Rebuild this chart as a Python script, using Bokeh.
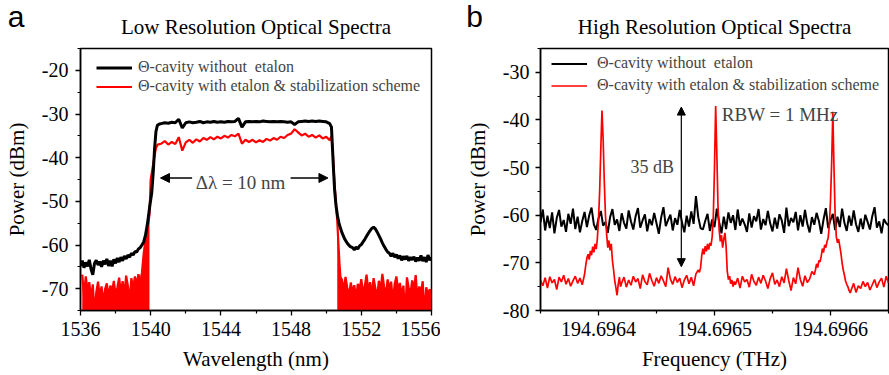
import numpy as np
from bokeh.plotting import figure
from bokeh.layouts import row
from bokeh.models import (Range1d, FixedTicker, PrintfTickFormatter, Legend, LegendItem,
                          Label, Arrow, NormalHead, Title)
from bokeh.embed import file_html
from bokeh.resources import INLINE

# ---------------- Panel a: low resolution spectra (wavelength nm, power dBm) ----------------
black_a_left_y = [-64.8, -63.6, -65.2, -64.0, -64.9, -63.4, -65.5, -66.8, -64.2, -63.5,
                  -64.6, -63.8, -65.0, -63.6, -64.4, -63.2, -64.8, -63.6, -64.9, -63.3,
                  -64.2, -63.0, -63.9, -62.8, -63.6, -62.5, -63.2, -62.3, -62.8, -61.9,
                  -62.3, -61.5, -61.6, -60.9, -60.6]
black_a_left_x = np.linspace(1536.0, 1539.4, len(black_a_left_y))
black_a_rise_x = [1539.5, 1539.6, 1539.7, 1539.8, 1539.87, 1539.95, 1540.06, 1540.15, 1540.22, 1540.3, 1540.38, 1540.5]
black_a_rise_y = [-60.0, -59.3, -57.8, -55.5, -53.5, -51.0, -48.0, -43.0, -38.0, -34.0, -32.6, -32.3]
black_a_plat_y = [-32.2, -32.0, -32.1, -31.9, -32.0, -31.2, -33.2, -32.0, -31.8, -32.0,
                  -31.9, -31.7, -32.0, -31.8, -31.9, -31.7, -31.9, -31.8, -31.9, -31.7,
                  -31.8, -31.7, -31.0, -33.0, -31.8, -31.7, -31.8, -31.7, -31.8, -31.6,
                  -31.7, -31.8, -31.7, -31.8, -31.7, -31.8, -31.9, -31.8, -32.4, -31.8,
                  -31.7, -31.6, -31.7, -31.6, -31.7, -31.6, -31.7, -31.8, -32.2]
black_a_plat_x = np.linspace(1540.6, 1550.2, len(black_a_plat_y))
black_a_fall_x = [1550.3, 1550.36, 1550.42, 1550.48, 1550.56, 1550.65, 1550.72, 1550.8, 1550.91, 1551.05, 1551.2, 1551.35]
black_a_fall_y = [-33.0, -38.0, -43.0, -47.5, -51.0, -53.5, -54.8, -56.0, -57.3, -58.6, -59.6, -60.3]
black_a_right_y = [-60.6, -61.1, -60.5, -60.9, -60.2, -59.9, -59.3, -58.7, -58.0, -57.3,
                   -56.7, -56.2, -55.9, -56.3, -57.0, -57.8, -58.6, -59.5, -60.3, -61.0,
                   -61.6, -61.9, -62.6, -61.9, -62.8, -62.2, -63.1, -62.4, -63.5, -62.6,
                   -63.3, -62.5, -63.6, -62.8, -63.4, -62.7, -63.8, -62.9, -63.6, -62.4,
                   -63.7, -62.8, -63.9, -62.3, -63.5, -62.9]
black_a_right_x = np.linspace(1551.5, 1556.0, len(black_a_right_y))

red_a_left_y = [-66.8, -71.5, -67.2, -70.3, -68.5, -72.4, -69.0, -76.0, -70.8, -68.4,
                -71.9, -69.5, -73.2, -70.1, -68.8, -72.0, -69.3, -70.6, -68.2, -71.4,
                -69.8, -67.5, -70.9, -68.3, -71.6, -67.0, -69.4, -72.8, -67.6, -70.0,
                -67.2, -69.1, -66.7, -68.5, -66.4]
red_a_left_x = np.linspace(1536.1, 1539.5, len(red_a_left_y))
red_a_rise_x = [1539.6, 1539.7, 1539.8, 1539.88, 1539.93, 1540.0, 1540.1, 1540.2, 1540.3, 1540.4, 1540.5]
red_a_rise_y = [-62.0, -59.0, -56.5, -54.5, -53.0, -45.0, -42.5, -40.0, -37.8, -37.0, -36.9]
red_a_plat_y = [-36.8, -36.2, -37.0, -36.4, -36.9, -35.3, -38.4, -36.5, -35.9, -36.6,
                -35.8, -36.3, -35.5, -35.9, -35.3, -35.8, -35.2, -35.6, -35.0, -35.4,
                -34.8, -35.1, -34.5, -36.8, -35.9, -36.4, -35.9, -36.5, -36.0, -36.4,
                -35.7, -36.1, -35.5, -35.9, -35.2, -35.5, -34.8, -34.5, -33.5, -34.2,
                -34.9, -34.5, -35.2, -34.8, -35.4, -34.9, -35.6, -35.2, -36.0]
red_a_plat_x = np.linspace(1540.6, 1550.2, len(red_a_plat_y))
red_a_fall_x = [1550.3, 1550.38, 1550.46, 1550.55, 1550.63, 1550.7, 1550.76, 1550.81]
red_a_fall_y = [-35.0, -39.0, -45.0, -50.0, -54.5, -60.0, -64.5, -67.3]
red_a_right_y = [-68.0, -70.5, -67.3, -69.8, -71.8, -68.6, -70.9, -69.2, -72.3, -68.9,
                 -70.2, -67.8, -71.0, -69.4, -66.8, -70.7, -68.5, -71.5, -67.6, -69.9,
                 -72.0, -68.2, -70.4, -66.6, -69.6, -71.3, -67.9, -70.0, -68.4, -73.0,
                 -69.0, -67.2, -70.6, -68.7, -71.7, -69.3, -76.0, -67.4, -69.8, -71.2,
                 -68.1, -70.3, -66.9, -72.5, -69.5, -70.8, -68.3, -76.0, -69.7, -71.4,
                 -70.1, -72.2]
red_a_right_x = np.linspace(1550.9, 1556.0, len(red_a_right_y))

a_xticks = [1536, 1540, 1544, 1548, 1552, 1556]
a_xminor = [1538, 1542, 1546, 1550, 1554]
a_yticks = [-70, -60, -50, -40, -30, -20]
a_yminor = [-75, -65, -55, -45, -35, -25, -15]

# annotation anchors panel a
dl_text = "\u0394\u03bb = 10 nm"
dl_x, dl_y, dl_arrow_y = 1545.12, -45.6, -44.65
dl_left_arrow = (1542.36, 1540.56)
dl_right_arrow = (1547.97, 1550.1)

# ---------------- Panel b: high resolution spectra ----------------
f0_thz = 194.6964  # offsets below in MHz from this frequency
black_b_off = np.arange(-50, 251, 2)
black_b_pow = [-61.5, -58.8, -63.2, -60.1, -62.7, -59.4, -63.8, -60.6, -58.9, -62.4,
               -61.0, -63.5, -59.7, -61.8, -58.6, -62.9, -60.3, -63.6, -61.2, -59.3,
               -62.5, -60.0, -58.4, -61.9, -63.1, -60.7, -59.1, -62.2, -61.4, -63.7,
               -60.4, -58.7, -62.0, -60.9, -63.3, -59.6, -61.6, -62.8, -59.0, -61.3,
               -63.0, -60.2, -58.5, -62.6, -61.1, -59.8, -63.4, -60.8, -62.1, -59.5,
               -61.7, -63.9, -60.5, -58.3, -62.3, -61.0, -59.9, -63.2, -60.6, -62.0,
               -58.9, -61.5, -63.6, -60.1, -62.4, -59.2, -61.8, -56.0, -60.4, -62.7,
               -63.0, -61.2, -59.7, -63.3, -60.9, -62.5, -58.6, -61.4, -63.8, -60.3,
               -62.9, -59.4, -61.6, -60.0, -63.1, -58.8, -62.2, -60.7, -61.9, -63.5,
               -59.6, -62.6, -60.2, -61.3, -58.7, -63.0, -60.8, -62.1, -59.1, -61.7,
               -63.4, -60.5, -62.8, -59.8, -61.1, -63.7, -58.4, -62.3, -60.6, -61.5,
               -59.3, -63.2, -60.0, -62.4, -58.9, -61.8, -63.6, -60.4, -62.0, -59.5,
               -61.2, -63.9, -60.9, -58.5, -62.7, -61.0, -59.7, -63.1, -60.3, -62.5,
               -58.6, -61.6, -63.3, -60.1, -62.2, -59.0, -61.9, -63.5, -60.7, -62.9,
               -59.9, -61.4, -63.0, -60.2, -58.3, -62.6, -61.3, -63.8, -60.8, -61.7,
               -62.1]

red_b_seg1_off = np.arange(-50, -11, 2)
red_b_seg1_pow = [-73.6, -74.8, -73.1, -75.3, -72.9, -74.2, -73.5, -75.6, -73.0, -74.0,
                  -72.6, -74.5, -73.3, -74.9, -73.8, -72.8, -74.3, -73.2, -74.6, -72.4]
red_b_pk1_off = np.arange(-11, 20)
red_b_pk1_pow = [-70.5, -69.0, -68.2, -69.3, -67.5, -68.4, -66.6, -67.8, -66.0, -67.1,
                 -65.0, -61.0, -55.0, -46.0, -38.0, -44.0, -53.0, -60.0, -64.0, -66.8,
                 -65.3, -67.4, -66.0, -69.5, -71.5, -73.8, -75.2, -76.8, -74.5, -73.0,
                 -75.0]
red_b_seg2_off = np.arange(20, 87, 2)
red_b_seg2_pow = [-74.2, -73.0, -75.1, -73.6, -74.7, -72.8, -74.0, -73.3, -75.4, -72.5,
                  -73.9, -74.6, -72.2, -73.7, -74.9, -73.1, -74.3, -72.7, -73.8, -75.0,
                  -71.0, -73.4, -74.5, -72.9, -74.1, -73.2, -75.2, -73.6, -72.6, -74.4,
                  -73.0, -74.8, -72.3, -71.5]
red_b_pk2_off = np.arange(87, 118)
red_b_pk2_pow = [-72.0, -71.0, -68.5, -67.0, -68.2, -66.5, -67.6, -66.0, -67.2, -65.8,
                 -66.4, -64.5, -60.0, -50.0, -37.1, -47.0, -58.0, -63.0, -65.5, -64.2,
                 -66.8, -65.0, -63.7, -66.5, -71.8, -73.5, -72.8, -74.4, -73.6, -75.0,
                 -73.9]
red_b_seg3_off = np.arange(118, 187, 2)
red_b_seg3_pow = [-74.6, -73.2, -75.3, -72.8, -74.0, -73.5, -75.1, -72.4, -73.9, -74.7,
                  -73.0, -74.3, -72.6, -73.8, -75.4, -73.3, -72.1, -74.5, -73.6, -75.0,
                  -72.9, -74.2, -71.2, -73.7, -75.8, -73.1, -74.4, -71.0, -73.5, -74.9,
                  -72.7, -74.1, -73.4, -71.8, -72.5]
red_b_pk3_off = np.arange(187, 218)
red_b_pk3_pow = [-71.5, -70.2, -71.0, -69.5, -69.8, -68.6, -67.0, -67.8, -66.2, -66.8,
                 -65.5, -64.8, -62.0, -57.0, -49.0, -38.3, -50.0, -60.0, -64.5, -65.8,
                 -65.0, -66.5, -68.0, -70.0, -71.5, -72.6, -73.8, -74.5, -75.0, -75.8,
                 -76.3]
red_b_seg4_off = np.arange(218, 251, 2)
red_b_seg4_pow = [-75.6, -74.3, -76.2, -74.8, -75.4, -73.9, -75.0, -74.1, -75.7, -74.6,
                  -73.5, -75.2, -74.0, -73.2, -75.1, -72.8, -74.2]

b_xticks = [194.6964, 194.6965, 194.6966]
b_xminor = [194.69635, 194.69645, 194.69655, 194.69665]
b_yticks = [-80, -70, -60, -50, -40, -30]
b_yminor = [-75, -65, -55, -45, -35, -25]

# annotation anchors panel b (offsets in MHz)
b_arrow_off, b_arrow_y0, b_arrow_y1 = 71.4, -70.8, -37.3
b_db_off, b_db_y = 65.1, -49.9
b_rbw_off, b_rbw_y = 106.3, -38.9

legend_labels = ["\u0398-cavity without  etalon",
                 "\u0398-cavity with etalon & stabilization scheme"]
titles = ["Low Resolution Optical Spectra", "High Resolution Optical Spectra"]
letters = ["a", "b"]

SERIF = "Liberation Serif"


def style(p, xt, xm, yt, ym, xfmt):
    p.outline_line_color = "black"
    p.outline_line_width = 1.5
    p.xgrid.grid_line_color = None
    p.ygrid.grid_line_color = None
    p.xaxis.ticker = FixedTicker(ticks=xt, minor_ticks=xm)
    p.yaxis.ticker = FixedTicker(ticks=yt, minor_ticks=ym)
    p.xaxis.formatter = PrintfTickFormatter(format=xfmt)
    p.yaxis.formatter = PrintfTickFormatter(format="%d")
    for ax in (p.xaxis, p.yaxis):
        ax.axis_line_color = "black"
        ax.axis_line_width = 1.5
        ax.major_tick_line_color = "black"
        ax.minor_tick_line_color = "black"
        ax.major_tick_line_width = 1.3
        ax.minor_tick_line_width = 1.2
        ax.major_tick_in = 0
        ax.major_tick_out = 5
        ax.minor_tick_in = 0
        ax.minor_tick_out = 3
        ax.major_label_text_font = SERIF
        ax.major_label_text_font_size = "20px"
        ax.major_label_text_color = "black"
        ax.axis_label_text_font = SERIF
        ax.axis_label_text_font_size = "21px"
        ax.axis_label_text_font_style = "normal"
        ax.axis_label_text_color = "black"
    p.xaxis.major_label_standoff = 6
    p.xaxis.axis_label_standoff = 8
    p.yaxis.major_label_standoff = 7
    p.yaxis.axis_label_standoff = 10


def add_titles(p, title_text, letter, letter_offset):
    # main title nearest the frame, panel letter stacked outside it
    p.add_layout(Title(text=title_text, align="center", standoff=19, text_font=SERIF,
                       text_font_size="21px", text_font_style="normal", text_color="black"), "above")
    try:
        t = Title(text=letter, align="left", offset=letter_offset, standoff=-58,
                  text_font="Liberation Sans", text_font_size="30px",
                  text_font_style="normal", text_color="black")
    except Exception:
        t = Title(text=letter, align="left", offset=letter_offset, standoff=0,
                  text_font="Liberation Sans", text_font_size="30px",
                  text_font_style="normal", text_color="black")
    p.add_layout(t, "above")


# ---------------- Figure a ----------------
pa = figure(width=440, height=375, x_range=Range1d(1536, 1556), y_range=Range1d(-75, -15),
            output_backend="svg", toolbar_location=None,
            min_border_left=80, min_border_right=9, min_border_top=48, min_border_bottom=65,
            x_axis_label="Wavelength (nm)", y_axis_label="Power (dBm)")
style(pa, a_xticks, a_xminor, a_yticks, a_yminor, "%d")
add_titles(pa, titles[0], letters[0], -72.8)

red_x = np.concatenate([red_a_left_x, red_a_rise_x, red_a_plat_x, red_a_fall_x, red_a_right_x])
red_y = np.concatenate([red_a_left_y, red_a_rise_y, red_a_plat_y, red_a_fall_y, red_a_right_y])
fillL_x = np.concatenate([red_a_left_x, red_a_rise_x[:5]])
fillL_y = np.concatenate([red_a_left_y, red_a_rise_y[:5]])
fillR_x = np.concatenate([red_a_fall_x[-4:], red_a_right_x])
fillR_y = np.concatenate([red_a_fall_y[-4:], red_a_right_y])

blk_x = np.concatenate([black_a_left_x, black_a_rise_x, black_a_plat_x, black_a_fall_x, black_a_right_x])
blk_y = np.concatenate([black_a_left_y, black_a_rise_y, black_a_plat_y, black_a_fall_y, black_a_right_y])

pa.varea(x=fillL_x, y1=-80, y2=fillL_y, fill_color="#ff0000")
pa.varea(x=fillR_x, y1=-80, y2=fillR_y, fill_color="#ff0000")
ra = pa.line(red_x, red_y, line_color="#ff0000", line_width=2.2)
ba = pa.line(blk_x, blk_y, line_color="black", line_width=3)

leg_a = Legend(items=[LegendItem(label=legend_labels[0], renderers=[ba]),
                      LegendItem(label=legend_labels[1], renderers=[ra])],
               location=(16, 214.5), padding=0, margin=0, spacing=0,
               label_height=19, glyph_height=19, glyph_width=36, label_standoff=6,
               border_line_color=None, background_fill_alpha=0,
               label_text_font=SERIF, label_text_font_size="16px")
pa.add_layout(leg_a)

pa.add_layout(Label(x=dl_x, y=dl_y, text=dl_text, text_align="center", text_baseline="alphabetic",
                    text_font=SERIF, text_font_size="19px"))
pa.add_layout(Arrow(end=NormalHead(size=9, fill_color="black", line_color="black"),
                    x_start=dl_left_arrow[0], x_end=dl_left_arrow[1], y_start=dl_arrow_y, y_end=dl_arrow_y,
                    line_width=1.5))
pa.add_layout(Arrow(end=NormalHead(size=9, fill_color="black", line_color="black"),
                    x_start=dl_right_arrow[0], x_end=dl_right_arrow[1], y_start=dl_arrow_y, y_end=dl_arrow_y,
                    line_width=1.5))

# ---------------- Figure b ----------------
pb = figure(width=449, height=375, x_range=Range1d(194.69635, 194.69665), y_range=Range1d(-80, -25),
            output_backend="svg", toolbar_location=None,
            min_border_left=100, min_border_right=1, min_border_top=48, min_border_bottom=65,
            x_axis_label="Frequency (THz)", y_axis_label="Power (dBm)")
style(pb, b_xticks, b_xminor, b_yticks, b_yminor, "%.4f")
pb.yaxis.major_label_standoff = 6
pb.yaxis.axis_label_standoff = 10
add_titles(pb, titles[1], letters[1], -74.3)

red_b_off = np.concatenate([red_b_seg1_off, red_b_pk1_off, red_b_seg2_off, red_b_pk2_off,
                            red_b_seg3_off, red_b_pk3_off, red_b_seg4_off])
red_b_pow = np.concatenate([red_b_seg1_pow, red_b_pk1_pow, red_b_seg2_pow, red_b_pk2_pow,
                            red_b_seg3_pow, red_b_pk3_pow, red_b_seg4_pow])
bb = pb.line(f0_thz + black_b_off * 1e-6, black_b_pow, line_color="black", line_width=2)
rb = pb.line(f0_thz + red_b_off * 1e-6, red_b_pow, line_color="#ff0000", line_width=1.7)

leg_b = Legend(items=[LegendItem(label=legend_labels[0], renderers=[bb]),
                      LegendItem(label=legend_labels[1], renderers=[rb])],
               location=(11, 215.5), padding=0, margin=0, spacing=3,
               label_height=19, glyph_height=19, glyph_width=36, label_standoff=10,
               border_line_color=None, background_fill_alpha=0,
               label_text_font=SERIF, label_text_font_size="16px")
pb.add_layout(leg_b)

pb.add_layout(Arrow(start=NormalHead(size=8, fill_color="black", line_color="black"),
                    end=NormalHead(size=8, fill_color="black", line_color="black"),
                    x_start=f0_thz + b_arrow_off * 1e-6, x_end=f0_thz + b_arrow_off * 1e-6,
                    y_start=b_arrow_y0, y_end=b_arrow_y1, line_width=1.2))
pb.add_layout(Label(x=f0_thz + b_db_off * 1e-6, y=b_db_y, text="35 dB", text_align="right",
                    text_baseline="alphabetic", text_font=SERIF, text_font_size="18px"))
pb.add_layout(Label(x=f0_thz + b_rbw_off * 1e-6, y=b_rbw_y, text="RBW = 1 MHz", text_align="left",
                    text_baseline="alphabetic", text_font=SERIF, text_font_size="19px"))

layout = row(pa, pb)
open("out.html", "w").write(file_html(layout, INLINE))
